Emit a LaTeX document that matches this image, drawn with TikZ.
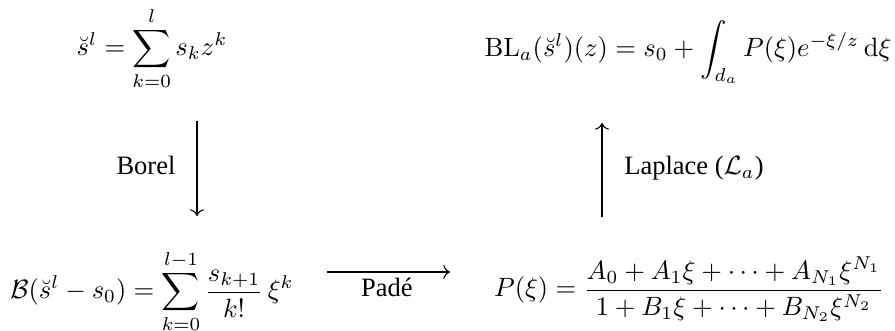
\documentclass[tikz,border=0pt]{standalone}
\usepackage{amsmath}
\usepackage[no-math]{fontspec}
\setmainfont{Liberation Serif}
\usetikzlibrary{arrows.meta}

\begin{document}
\begin{tikzpicture}[x=0.3774pt,y=-0.3774pt,
  term/.style={anchor=base,inner sep=0pt},
  lbl/.style={anchor=base,inner sep=0pt},
  arr/.style={-{To[length=2.5pt]},line width=0.4pt}
]
  \useasboundingbox (0,0) rectangle (895,331);

  % ---------------- the four corners ----------------
  \node[term] (series) at (152,56)
    {$\displaystyle \breve{s}^l = \sum_{k=0}^{l} s_k z^k$};
  \node[term] (resum) at (688,57)
    {$\displaystyle \mathrm{BL}_a(\breve{s}^l)(z) = s_0 + \int_{d_a} P(\xi) e^{-\xi/z}\,\mathrm{d}\xi$};
  \node[term] (borelt) at (152,299)
    {$\displaystyle \mathcal{B}(\breve{s}^l - s_0) = \sum_{k=0}^{l-1} \frac{s_{k+1}}{k!}\,\xi^k$};
  \node[term] (pade) at (689,297)
    {$\displaystyle P(\xi) = \frac{A_0 + A_1\xi + \cdots + A_{N_1}\xi^{N_1}}{1 + B_1\xi + \cdots + B_{N_2}\xi^{N_2}}$};

  % ---------------- labels ----------------
  \node[lbl] (borel)   at (146,175) {Borel};
  \node[lbl] (laplace) at (694,175) {Laplace ($\mathcal{L}_a$)};
  \node[lbl] (padel)   at (387,297) {Padé};

  % ---------------- arrow ends ----------------
  \coordinate (bs) at (197,121); \coordinate (be) at (197,216);
  \coordinate (ls) at (602,217); \coordinate (le) at (602,123);
  \coordinate (ps) at (327,272); \coordinate (pe) at (450,272);

  \draw[arr] (bs)--(be);
  \draw[arr] (ls)--(le);
  \draw[arr] (ps)--(pe);
\end{tikzpicture}
\end{document}
